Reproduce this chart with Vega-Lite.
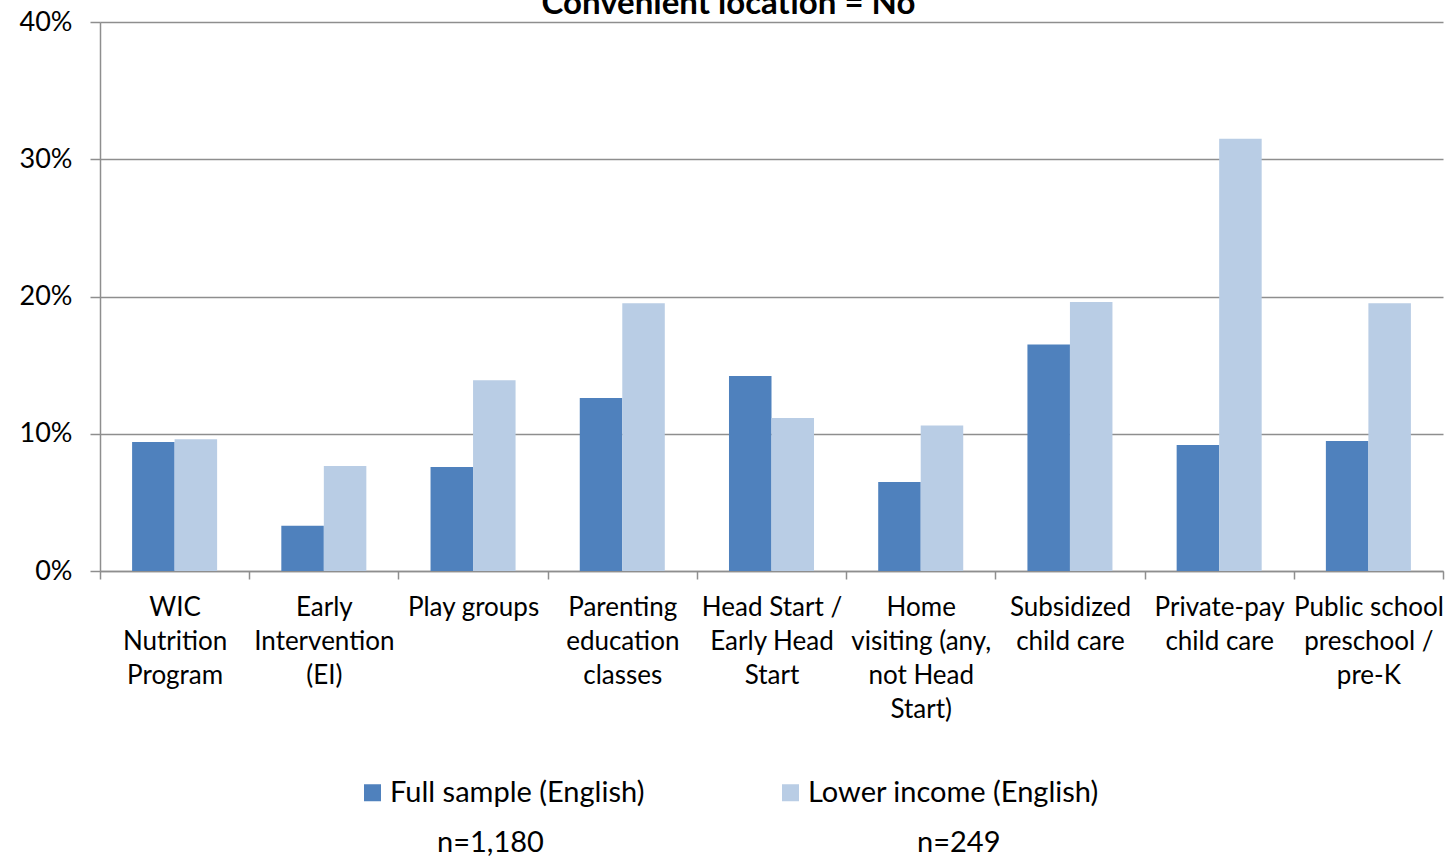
{
  "$schema": "https://vega.github.io/schema/vega-lite/v6.json",
  "width": 1343,
  "height": 549,
  "autosize": {"type": "none"},
  "padding": {"left": 100, "top": 22, "right": 8, "bottom": 294},
  "background": "white",
  "title": {"text": "Convenient location = No", "anchor": "middle", "dx": -43, "offset": -39, "baseline": "alphabetic", "fontSize": 33, "font": "Lato", "fontWeight": "bold", "color": "#000000"},
  "data": {"values": [
    {"program": "WIC Nutrition Program", "series": "Full sample (English)", "n": "n=1,180", "pct": 0.094},
    {"program": "WIC Nutrition Program", "series": "Lower income (English)", "n": "n=249", "pct": 0.096},
    {"program": "Early Intervention (EI)", "series": "Full sample (English)", "n": "n=1,180", "pct": 0.033},
    {"program": "Early Intervention (EI)", "series": "Lower income (English)", "n": "n=249", "pct": 0.0765},
    {"program": "Play groups", "series": "Full sample (English)", "n": "n=1,180", "pct": 0.0758},
    {"program": "Play groups", "series": "Lower income (English)", "n": "n=249", "pct": 0.139},
    {"program": "Parenting education classes", "series": "Full sample (English)", "n": "n=1,180", "pct": 0.126},
    {"program": "Parenting education classes", "series": "Lower income (English)", "n": "n=249", "pct": 0.195},
    {"program": "Head Start / Early Head Start", "series": "Full sample (English)", "n": "n=1,180", "pct": 0.142},
    {"program": "Head Start / Early Head Start", "series": "Lower income (English)", "n": "n=249", "pct": 0.1115},
    {"program": "Home visiting (any, not Head Start)", "series": "Full sample (English)", "n": "n=1,180", "pct": 0.0648},
    {"program": "Home visiting (any, not Head Start)", "series": "Lower income (English)", "n": "n=249", "pct": 0.106},
    {"program": "Subsidized child care", "series": "Full sample (English)", "n": "n=1,180", "pct": 0.165},
    {"program": "Subsidized child care", "series": "Lower income (English)", "n": "n=249", "pct": 0.196},
    {"program": "Private-pay child care", "series": "Full sample (English)", "n": "n=1,180", "pct": 0.0918},
    {"program": "Private-pay child care", "series": "Lower income (English)", "n": "n=249", "pct": 0.315},
    {"program": "Public school preschool / pre-K", "series": "Full sample (English)", "n": "n=1,180", "pct": 0.0947},
    {"program": "Public school preschool / pre-K", "series": "Lower income (English)", "n": "n=249", "pct": 0.195}
  ]},
  "mark": {"type": "bar"},
  "encoding": {
    "x": {
      "field": "program", "type": "nominal", "sort": null,
      "scale": {"paddingInner": 0, "paddingOuter": 0},
      "axis": {
        "title": null, "labelAngle": 0, "tickBand": "extent", "grid": false,
        "domainColor": "#8e8e8e", "domainWidth": 1.5, "tickColor": "#8e8e8e", "tickWidth": 1.5, "tickSize": 8,
        "labelFont": "Lato", "labelFontSize": 26, "labelColor": "#000000", "labelLineHeight": 34,
        "labelPadding": 15, "labelLimit": 0, "labelOverlap": false, "labelBaseline": "top",
        "labelExpr": "{'WIC Nutrition Program': ['WIC', 'Nutrition', 'Program'], 'Early Intervention (EI)': ['Early', 'Intervention', '(EI)'], 'Play groups': ['Play groups'], 'Parenting education classes': ['Parenting', 'education', 'classes'], 'Head Start / Early Head Start': ['Head Start /', 'Early Head', 'Start'], 'Home visiting (any, not Head Start)': ['Home', 'visiting (any,', 'not Head', 'Start)'], 'Subsidized child care': ['Subsidized', 'child care'], 'Private-pay child care': ['Private-pay', 'child care'], 'Public school preschool / pre-K': ['Public school', 'preschool /', 'pre-K']}[datum.label]"
      }
    },
    "xOffset": {
      "field": "series", "type": "nominal", "sort": ["Full sample (English)", "Lower income (English)"],
      "scale": {"paddingInner": 0, "paddingOuter": 0.755}
    },
    "y": {
      "field": "pct", "type": "quantitative",
      "scale": {"domain": [0, 0.4], "nice": false},
      "axis": {
        "title": null, "values": [0, 0.1, 0.2, 0.3, 0.4], "format": ".0%",
        "grid": true, "gridColor": "#8e8e8e", "gridWidth": 1.5,
        "domainColor": "#8e8e8e", "domainWidth": 1.5, "tickColor": "#8e8e8e", "tickWidth": 1.5, "tickSize": 10,
        "labelFont": "Lato", "labelFontSize": 27, "labelColor": "#000000", "labelPadding": 18
      }
    },
    "color": {
      "field": "series", "type": "nominal", "sort": ["Full sample (English)", "Lower income (English)"],
      "scale": {"range": ["#4F81BD", "#B9CDE5"]},
      "legend": {
        "title": null, "orient": "none", "direction": "horizontal", "legendX": 258, "legendY": 756,
        "symbolType": "square", "symbolSize": 289, "symbolStrokeWidth": 0, "symbolOpacity": 1,
        "labelFont": "Lato", "labelFontSize": 29, "labelColor": "#000000", "labelOffset": 3, "columnPadding": 131, "labelLimit": 0
      }
    },
    "opacity": {
      "field": "n", "type": "ordinal", "sort": ["n=1,180", "n=249"],
      "scale": {"range": [1, 1]},
      "legend": {
        "title": null, "orient": "none", "direction": "horizontal", "legendX": 308, "legendY": 806,
        "symbolSize": 0, "symbolStrokeWidth": 0,
        "labelFont": "Lato", "labelFontSize": 29, "labelColor": "#000000", "labelOffset": 0, "columnPadding": 344, "labelLimit": 0
      }
    }
  },
  "config": {"view": {"stroke": null}}
}
